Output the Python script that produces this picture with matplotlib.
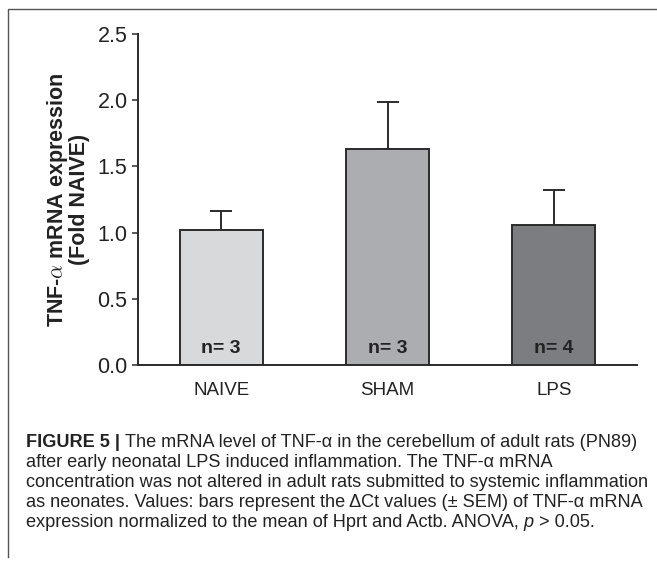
import matplotlib
matplotlib.use("Agg")
import matplotlib.pyplot as plt
from matplotlib.lines import Line2D

plt.rcParams["font.family"] = ["Liberation Sans", "DejaVu Sans"]
plt.rcParams["mathtext.fontset"] = "cm"

# data
groups = ["NAIVE", "SHAM", "LPS"]
fold = [1.02, 1.63, 1.06]
sem = [0.145, 0.36, 0.26]
n_labels = ["n= 3", "n= 3", "n= 4"]
bar_colors = ["#d8d9db", "#acadb1", "#7c7d80"]
yticks = [0.0, 0.5, 1.0, 1.5, 2.0, 2.5]

caption_lines = [
    [("FIGURE 5 | ", "bold", "normal"),
     ("The mRNA level of TNF-\u03b1 in the cerebellum of adult rats (PN89)", "normal", "normal")],
    [("after early neonatal LPS induced inflammation. The TNF-\u03b1 mRNA", "normal", "normal")],
    [("concentration was not altered in adult rats submitted to systemic inflammation", "normal", "normal")],
    [("as neonates. Values: bars represent the \u0394Ct values (\u00b1 SEM) of TNF-\u03b1 mRNA", "normal", "normal")],
    [("expression normalized to the mean of Hprt and Actb. ANOVA, ", "normal", "normal"),
     ("p", "normal", "italic"),
     (" > 0.05.", "normal", "normal")],
]

W, H = 657, 565
DARK = "#2b2b2b"

fig = plt.figure(figsize=(W / 100, H / 100), dpi=100)
ax = fig.add_axes([138 / W, 1 - 365 / H, (637 - 138) / W, (365 - 34) / H])

x = list(range(len(groups)))
ax.errorbar(x, fold, yerr=[[0] * len(sem), sem], fmt="none", ecolor=DARK,
            elinewidth=1.4, capsize=8, capthick=1.4, zorder=1)
ax.bar(x, fold, width=0.5, color=bar_colors, edgecolor=DARK, linewidth=1.4, zorder=2)

for xi, lab in zip(x, n_labels):
    ax.text(xi, 0.128, lab, ha="center", va="center", fontsize=14,
            fontweight="bold", color="#222222", zorder=3)

ax.set_xlim(-0.5, 2.5)
ax.set_ylim(0, 2.5)
ax.set_yticks(yticks)
ax.set_yticklabels([f"{v:.1f}" for v in yticks])
ax.set_xticks(x)
ax.set_xticklabels(groups)
ax.tick_params(axis="y", length=4.5, width=1.1, color=DARK, pad=3, labelsize=15.5,
               labelcolor="#222222")
ax.tick_params(axis="x", length=0, pad=12, labelsize=13.5, labelcolor="#222222")
for side in ("top", "right"):
    ax.spines[side].set_visible(False)
for side in ("left", "bottom"):
    ax.spines[side].set_color(DARK)
    ax.spines[side].set_linewidth(1.4)

ax.set_ylabel("TNF-$\\alpha$ mRNA expression\n(Fold NAIVE)", fontsize=15.5,
              fontweight="bold", linespacing=0.95, color="#222222", labelpad=5)

# frame around the figure panel (top and left edges visible)
fig.add_artist(Line2D([8 / W, 8 / W, 1.0], [1 - 557 / H, 1 - 9 / H, 1 - 9 / H],
                      transform=fig.transFigure, color="#555555", lw=1.0))

# caption, pieces chained on each line
renderer = fig.canvas.get_renderer()
y0 = 447
for i, pieces in enumerate(caption_lines):
    xp = 26
    yp = 1 - (y0 + i * 20) / H
    for text, weight, style in pieces:
        t = fig.text(xp / W, yp, text, fontsize=13.1, fontweight=weight,
                     fontstyle=style, color="#222222", va="baseline", ha="left")
        xp += t.get_window_extent(renderer).width

fig.savefig("out.png", dpi=100)
